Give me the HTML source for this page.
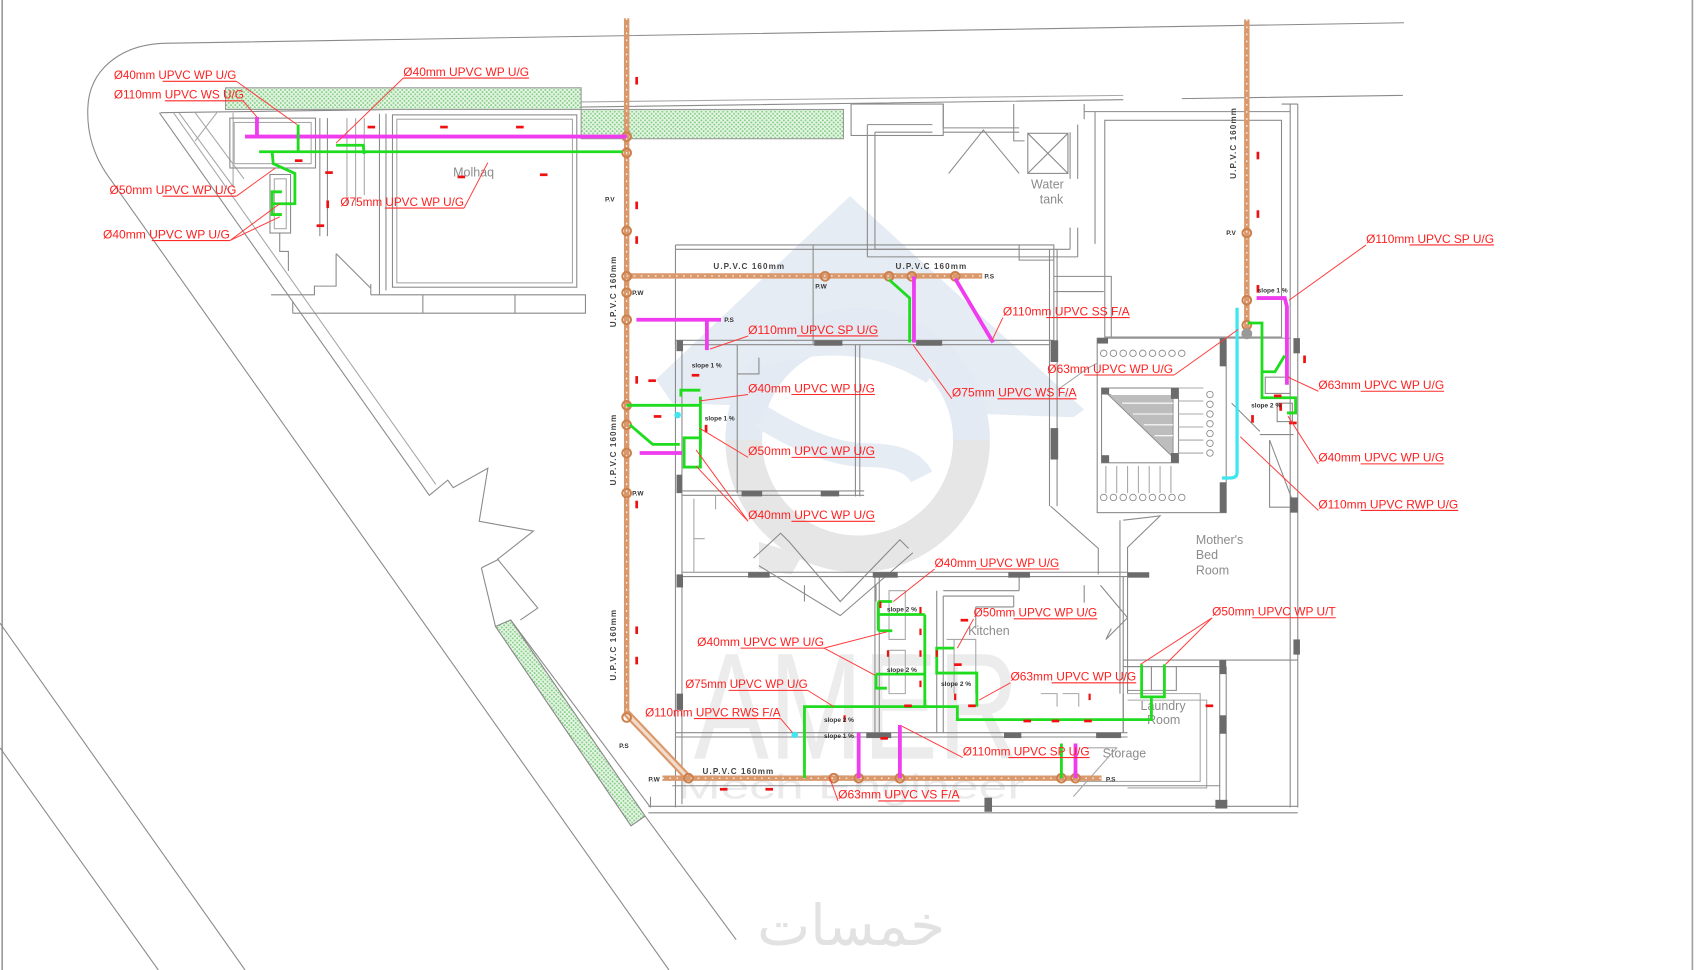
<!DOCTYPE html>
<html><head><meta charset="utf-8"><style>
html,body{margin:0;padding:0;background:#fff;}
svg{display:block;}
.w{stroke:#8a8a8a;stroke-width:1;fill:none}
.wl{stroke:#a8a8a8;stroke-width:1;fill:none}
.d{stroke:#666;stroke-width:1;fill:none}
.c{fill:#6b6b6b}
.ld{stroke:#ff3a3a;stroke-width:0.9;fill:none}
.ul{stroke:#ff2a2a;stroke-width:1;fill:none}
.lb{fill:#ff2020;font-family:"Liberation Sans",sans-serif;font-size:11px;}
.gt{fill:#8c8c8c;font-family:"Liberation Sans",sans-serif;font-size:11.5px;}
.sm{fill:#333;font-family:"Liberation Sans",sans-serif;font-size:6px;font-weight:bold}
.vt{fill:#444;font-family:"Liberation Sans",sans-serif;font-size:7.5px;font-weight:bold}
.or{stroke:#d9996c;stroke-width:5;fill:none}
.ord{stroke:#fff;stroke-width:1.1;stroke-dasharray:1.5 5;fill:none}
.mg{stroke:#ee3cee;stroke-width:3.5;fill:none}
.gr{stroke:#1fdc1f;stroke-width:2.6;fill:none}
.cy{stroke:#3ee6f0;stroke-width:3;fill:none}
.ra{fill:#ee1111}
</style></head><body>
<svg width="1700" height="970" viewBox="0 0 1568 895" preserveAspectRatio="none" xmlns="http://www.w3.org/2000/svg">
<defs>
<pattern id="h" width="4" height="4" patternUnits="userSpaceOnUse">
<rect width="4" height="4" fill="#e6f4e6"/><circle cx="1" cy="1" r="0.9" fill="#7fcf7f"/><circle cx="3" cy="3" r="0.9" fill="#7fcf7f"/>
</pattern>
</defs>
<rect width="1568" height="895" fill="#fff"/>

<!-- watermark logo -->
<polygon points="784,181 605,350 620,372 990,385 1000,378" fill="#e6ecf4"/>
<path d="M686,406 A105,105 0 0 1 896,406" fill="none" stroke="#e4eaf3" stroke-width="34"/>
<path d="M686,406 A105,105 0 0 0 896,406" fill="none" stroke="#e6e6e6" stroke-width="34"/>
<circle cx="791" cy="406" r="88" fill="#fff"/>
<path d="M703,385 Q760,420 800,420 Q840,420 850,440" fill="none" stroke="#e6ecf4" stroke-width="22"/>
<path d="M700,330 Q790,300 860,345" fill="none" stroke="#e6ecf4" stroke-width="20"/>
<path d="M700,500 L740,512 L730,530 L700,525 Z" fill="#e8e8e8"/>
<text x="640" y="700" textLength="300" lengthAdjust="spacingAndGlyphs" font-family="Liberation Sans,sans-serif" font-size="140" fill="#ececec">AMER</text>
<text x="625" y="737" textLength="320" lengthAdjust="spacingAndGlyphs" font-family="Liberation Sans,sans-serif" font-size="32" fill="#ebebeb">Mech Engineer</text>
<text x="785" y="872" text-anchor="middle" font-family="DejaVu Sans,sans-serif" font-size="52" fill="#e2e2e2">خمسات</text>

<!-- page edges -->
<line x1="2" y1="0" x2="2" y2="895" stroke="#9a9a9a" stroke-width="1.5"/>
<line x1="1561" y1="0" x2="1561" y2="895" stroke="#a0a0a0" stroke-width="1.5"/>

<!-- site boundary -->
<path d="M1295,21 L150,40 C110,42 82,65 81,100 C80,125 88,145 98,160 L617,895" class="w"/>
<line x1="0" y1="575" x2="226" y2="895" class="w"/>
<line x1="0" y1="690" x2="146" y2="895" class="w"/>
<path d="M148,104 L1036,92 M1090,91 L1294,88" class="w"/>
<path d="M210,98 L1036,88" class="wl"/>

<!-- building diagonal walls -->
<path d="M147,104 L396,457 L413,443 L418,450 L450,432 L442,481 L492,490 L459,516 L496,561 L480,572" class="w"/>
<path d="M160,104 L402,447" class="wl"/>
<path d="M444,524 L460,516 M444,524 L457,578" class="w"/>
<path d="M595,753 L679,867" class="w"/>
<path d="M471,572 L600,745" class="w"/>

<!-- hatch strips -->
<rect x="208" y="81" width="328" height="20" fill="url(#h)" stroke="#999" stroke-width="1"/>
<rect x="536" y="101" width="242" height="27" fill="url(#h)" stroke="#999" stroke-width="1"/>
<polygon points="457,578 471,572 595,753 582,762" fill="url(#h)" stroke="#888" stroke-width="1"/>

<!-- left building (Molhaq) -->
<path d="M165,104 L215,172 L215,104 M180,104 L225,165 M200,104 L180,130" class="wl"/>
<rect x="212" y="109" width="79" height="46" class="w"/>
<rect x="216" y="113" width="71" height="38" class="wl"/>
<rect x="249" y="161" width="19" height="54" class="w"/>
<rect x="253" y="165" width="11" height="46" class="wl"/>
<path d="M295,109 L295,218 M302,109 L302,218 M258,215 L258,232 L266,232 L266,250" class="w"/>
<path d="M320,109 L320,190 M328,109 L328,190 M336,109 L336,180" class="wl"/>
<rect x="362" y="106" width="170" height="159" class="w"/>
<rect x="366" y="110" width="162" height="151" class="wl"/>
<path d="M350,105 L350,272 M356,105 L356,268" class="w"/>
<path d="M342,272 L540,272 L540,289 L270,289 M342,272 L342,262 M390,272 L390,289 M475,272 L475,289" class="w"/>
<path d="M310,234 L310,264 L290,264 L290,272 L250,272 M310,234 L342,266 M270,289 L270,278" class="w"/>
<text class="gt" x="418" y="163" font-size="11">Molhaq</text>

<!-- top middle area / water tank -->
<rect x="785" y="96" width="85" height="29" class="w"/>
<path d="M870,96 L870,118 L940,118 M870,122 L940,122 M875,160 L907,120 L940,160" class="w"/>
<path d="M800,115 L800,237 M807,122 L807,230 M800,115 L860,115 M807,122 L860,122" class="w"/>
<path d="M994,115 L994,165 M994,210 L994,237 M987,122 L987,165 M987,210 L987,230 M935,96 L935,130 L945,130 M800,237 L994,237 M807,230 L987,230" class="w"/>
<rect x="948" y="123" width="37" height="37" class="w"/>
<path d="M948,123 L985,160 M985,123 L948,160" class="w"/>
<text class="gt" x="951" y="174">Water</text>
<text class="gt" x="959" y="188">tank</text>
<path d="M1000,96 L1000,103 L1190,103 M1000,96 L1000,110" class="w"/>
<rect x="1019" y="111" width="163" height="200" class="w"/>
<path d="M1010,103 L1010,225 M1190,96 L1190,745 M1197,96 L1197,745 M1182,96 L1197,96" class="w"/>

<!-- top rooms -->
<path d="M623,226 L972,226 L972,318 M623,230 L940,230 M623,226 L623,318 M750,226 L750,318 M940,226 L940,240 L972,240" class="w"/>
<path d="M972,255 L1025,255 L1025,311 M972,269 L1018,269" class="w"/>

<!-- middle building walls -->
<path d="M623,314 L972,314 M629,318 L968,318" class="w"/>
<path d="M623,314 L623,745 M629,318 L629,742" class="w"/>
<path d="M680,318 L680,455 M789,318 L789,458 M793,318 L793,458 M700,330 L700,345 L680,345" class="w"/>
<path d="M629,453 L797,453 M629,457 L797,457" class="w"/>
<path d="M629,528 L1040,528 M629,532 L1040,532" class="w"/>
<path d="M807,532 L807,680 M811,532 L811,680" class="w"/>
<path d="M623,676 L1040,676 M623,680 L1040,680" class="w"/>
<path d="M968,230 L968,467 M975,230 L975,467" class="w"/>
<path d="M640,460 L640,528 M660,457 L660,470 M640,497 L650,497" class="wl"/>
<!-- W zigzag -->
<path d="M695,515 L720,492 L728,500 L775,555 L830,498 L838,506 M700,522 L775,568 L842,510 M742,540 L742,555 M808,540 L808,555" class="w"/>
<!-- stairs -->
<rect x="1012" y="312" width="119" height="161" class="w"/>
<rect x="1016" y="358" width="71" height="69" class="w"/>
<path d="M1022,364 L1082,422 L1082,364 Z" fill="#bdbdbd" stroke="#888" stroke-width="0.8"/>
<path d="M1025,364 L1082,364 M1035,372 L1082,372 M1045,382 L1082,382 M1055,392 L1082,392 M1065,402 L1082,402" stroke="#fff" stroke-width="1"/>
<path d="M1087,358 L1110,358 M1087,370 L1110,370 M1087,382 L1110,382 M1087,394 L1110,394 M1087,406 L1110,406 M1087,418 L1110,418 M1020,430 L1020,455 M1030,430 L1030,455 M1040,430 L1040,455 M1050,430 L1050,455 M1060,430 L1060,455 M1070,430 L1070,455 M1080,430 L1080,455" class="wl"/>
<g fill="none" stroke="#888" stroke-width="0.8">
<circle cx="1018" cy="326" r="3"/><circle cx="1027" cy="326" r="3"/><circle cx="1036" cy="326" r="3"/><circle cx="1045" cy="326" r="3"/><circle cx="1054" cy="326" r="3"/><circle cx="1063" cy="326" r="3"/><circle cx="1072" cy="326" r="3"/><circle cx="1081" cy="326" r="3"/><circle cx="1090" cy="326" r="3"/>
<circle cx="1018" cy="459" r="3"/><circle cx="1027" cy="459" r="3"/><circle cx="1036" cy="459" r="3"/><circle cx="1045" cy="459" r="3"/><circle cx="1054" cy="459" r="3"/><circle cx="1063" cy="459" r="3"/><circle cx="1072" cy="459" r="3"/><circle cx="1081" cy="459" r="3"/><circle cx="1090" cy="459" r="3"/>
<circle cx="1116" cy="364" r="3"/><circle cx="1116" cy="373" r="3"/><circle cx="1116" cy="382" r="3"/><circle cx="1116" cy="391" r="3"/><circle cx="1116" cy="400" r="3"/><circle cx="1116" cy="409" r="3"/><circle cx="1116" cy="418" r="3"/>
</g>
<path d="M1012,335 L1003,340 L975,360" class="wl"/>
<!-- right wing details -->
<path d="M1131,312 L1190,312 M1136,372 L1162,398 M1171,406 L1193,464 M1162,401 L1193,401 M1171,406 L1171,468 L1193,468" class="w"/>
<rect x="1167" y="348" width="23" height="15" class="w"/>
<rect x="1178" y="372" width="14" height="17" class="w"/>
<!-- mother's bed room / lower right -->
<path d="M969,467 L1013,506 L1013,530 M1036,480 L1070,476 L1040,505 L1040,640 M1033,480 L1033,640 M1025,580 L1020,590 L1040,570" class="w"/>
<text class="gt" x="1103" y="502">Mother's</text>
<text class="gt" x="1103" y="516">Bed</text>
<text class="gt" x="1103" y="530">Room</text>
<path d="M1036,609 L1197,609 M1036,615 L1125,615 M1125,609 L1125,745 M1131,615 L1131,745" class="w"/>
<path d="M1040,615 L1085,615 L1085,637 L1040,637 M1062,615 L1062,637" class="w"/>
<path d="M1040,640 L1107,640 L1107,721 L996,721 M1040,646 L1113,646 L1113,727 L1040,727" class="wl"/>
<path d="M1036,640 L1036,676" class="w"/>
<text class="gt" x="1052" y="655">Laundry</text>
<text class="gt" x="1058" y="668">Room</text>
<text class="gt" x="1017" y="699">Storage</text>
<!-- kitchen -->
<path d="M864,545 L864,676 M870,550 L870,676 M870,545 L940,545 M870,550 L935,550 L935,560 M900,560 L935,560 M900,560 L900,580 M1000,540 L1000,556 M940,545 L940,530" class="w"/>
<path d="M1015,540 L1040,570 M1036,532 L1036,676" class="w"/>
<path d="M873,590 L900,590 L900,640 M880,590 L880,640" class="wl"/>
<text class="gt" x="893" y="586">Kitchen</text>
<path d="M820,545 L835,545 L835,590 L820,590 Z M820,600 L835,600 L835,640 L820,640 Z" class="wl"/>
<path d="M960,640 L975,640 L975,652 M980,640 L995,640 L995,652" class="wl"/>
<!-- bottom walls -->
<path d="M598,744 L1197,744 M598,750 L1197,750 M600,745 L600,735 M620,725 L1125,725" class="w"/>
<path d="M1000,690 L1030,690 L990,735" class="wl"/>

<!-- dark columns -->
<g class="c">
<rect x="624" y="314" width="6" height="10"/><rect x="751" y="314" width="26" height="5"/><rect x="845" y="314" width="24" height="5"/>
<rect x="969" y="314" width="7" height="20"/><rect x="969" y="395" width="7" height="29"/>
<rect x="1125" y="312" width="6" height="26"/><rect x="1125" y="445" width="6" height="28"/>
<rect x="1193" y="312" width="6" height="14"/><rect x="1190" y="459" width="7" height="14"/>
<rect x="624" y="438" width="5" height="17"/><rect x="684" y="453" width="19" height="5"/><rect x="757" y="453" width="17" height="5"/>
<rect x="624" y="530" width="6" height="12"/><rect x="690" y="528" width="20" height="5"/><rect x="805" y="528" width="23" height="5"/><rect x="930" y="528" width="20" height="5"/><rect x="1040" y="528" width="20" height="5"/>
<rect x="624" y="640" width="6" height="15"/><rect x="799" y="676" width="23" height="5"/><rect x="926" y="676" width="16" height="5"/><rect x="1011" y="676" width="23" height="5"/>
<rect x="908" y="736" width="7" height="13"/><rect x="1121" y="738" width="11" height="8"/>
<rect x="1125" y="609" width="6" height="13"/><rect x="1125" y="660" width="6" height="17"/><rect x="1193" y="590" width="6" height="14"/>
<rect x="1012" y="312" width="10" height="5"/><rect x="1016" y="358" width="7" height="6"/><rect x="1080" y="358" width="7" height="10"/><rect x="1016" y="420" width="7" height="7"/><rect x="1080" y="418" width="7" height="9"/>
</g>

<!-- orange pipes -->
<path d="M578,17 L578,660" class="or"/><path d="M578,17 L578,660" class="ord"/>
<path d="M578,658 L635,718" stroke="#d9996c" stroke-width="7" fill="none"/><path d="M578,658 L635,718" stroke="#f3dccb" stroke-width="3" fill="none"/>
<path d="M611,718 L1016,718" class="or"/><path d="M611,718 L1016,718" class="ord"/>
<path d="M578,254.6 L906,254.6" class="or"/><path d="M578,254.6 L906,254.6" class="ord"/>
<path d="M1150,18 L1150,307" class="or"/><path d="M1150,18 L1150,307" class="ord"/>
<g fill="none" stroke="#cc7f4a" stroke-width="1.8">
<circle cx="578" cy="126" r="4"/><circle cx="578" cy="141" r="4"/><circle cx="578" cy="213" r="4"/><circle cx="578" cy="255" r="4"/><circle cx="578" cy="270" r="4"/><circle cx="578" cy="295" r="4"/><circle cx="578" cy="374" r="4"/><circle cx="578" cy="392" r="4"/><circle cx="578" cy="418" r="4"/><circle cx="578" cy="455" r="4"/><circle cx="578" cy="662" r="4"/>
<circle cx="761" cy="255" r="4"/><circle cx="820" cy="255" r="4"/><circle cx="841" cy="255" r="4"/><circle cx="881" cy="255" r="4"/>
<circle cx="769" cy="718" r="4"/><circle cx="792" cy="718" r="4"/><circle cx="830" cy="718" r="4"/><circle cx="979" cy="718" r="4"/><circle cx="992" cy="718" r="4"/><circle cx="635" cy="718" r="4"/>
<circle cx="1150" cy="215" r="4"/><circle cx="1150" cy="277" r="4"/><circle cx="1150" cy="300" r="4"/>
</g>
<circle cx="1150" cy="308" r="5" fill="#999"/>

<!-- magenta pipes -->
<path d="M226,126 L578,126 M237,108 L237,126" class="mg"/>
<path d="M587,295 L665,295 M652,295 L652,323" class="mg"/>
<path d="M590,418 L629,418" class="mg"/>
<path d="M843,255 L843,316" class="mg"/>
<path d="M881,257 L916,316" class="mg" stroke-width="4.5"/>
<path d="M792,676 L792,718 M830,669 L830,718 M992,686 L992,718" class="mg"/>
<path d="M1159,275 L1185,275 L1187,283 L1187,355" class="mg"/>

<!-- green pipes -->
<path d="M239,140 L574,140 M275,115 L275,140" class="gr"/>
<path d="M251,140 L252,151 L272,160 L272,188 L251,188 M260,177 L251,177 L251,198 L260,198" class="gr"/>
<path d="M310,134 L335,134 L336,142" class="gr"/>
<path d="M820,258 L839,275 L839,316" class="gr"/>
<path d="M578,374 L646,374 M646,366 L646,412 M628,366 L628,360 L646,360" class="gr"/>
<path d="M581,392 L602,410 L627,410" class="gr"/>
<rect x="631" y="404" width="15" height="27" class="gr"/>
<path d="M742,718 L742,652 L883,652 L883,664 L1062,664 L1062,643 M1053,613 L1053,643 L1074,643 L1074,613" class="gr"/>
<path d="M853,567 L853,652 M810,567 L853,567 M810,555 L810,582 M810,555 L823,555 M810,582 L823,582" class="gr"/>
<path d="M808,622 L853,622 M808,622 L808,635 L818,635" class="gr"/>
<path d="M880,598 L864,598 L864,621 L901,621 L901,652" class="gr"/>
<path d="M979,686 L979,718" class="gr"/>
<path d="M1151,298 L1164,298 L1164,343 L1176,343 L1185,328 M1164,343 L1164,367 L1195,367 L1195,381 L1187,381" class="gr"/>

<!-- cyan -->
<path d="M1141,284 L1141,436 Q1141,441 1135,441 L1127,441" class="cy"/>
<circle cx="625" cy="383" r="3" fill="#3ee6f0"/>
<circle cx="733" cy="678" r="3" fill="#3ee6f0"/>

<!-- red flow arrows -->
<g class="ra">
<rect x="586" y="71" width="2.5" height="7"/><rect x="586" y="186" width="2.5" height="7"/><rect x="586" y="218" width="2.5" height="7"/><rect x="586" y="347" width="2.5" height="7"/><rect x="586" y="462" width="2.5" height="7"/><rect x="586" y="578" width="2.5" height="7"/><rect x="586" y="606" width="2.5" height="7"/>
<rect x="1159" y="140" width="2.5" height="7"/><rect x="1159" y="194" width="2.5" height="7"/><rect x="1159" y="263" width="2.5" height="7"/>
<rect x="301" y="185" width="2.5" height="7"/><rect x="650" y="392" width="2.5" height="7"/><rect x="1202" y="328" width="2.5" height="7"/><rect x="1180" y="372" width="2.5" height="7"/><rect x="1154" y="383" width="2.5" height="7"/>
<rect x="811" y="555" width="2" height="6"/><rect x="818" y="600" width="2" height="6"/><rect x="848" y="560" width="2" height="6"/><rect x="848" y="580" width="2" height="6"/><rect x="848" y="600" width="2" height="6"/><rect x="848" y="628" width="2" height="6"/><rect x="778" y="660" width="2" height="6"/><rect x="863" y="600" width="2" height="6"/><rect x="880" y="640" width="2" height="6"/><rect x="1004" y="640" width="2" height="6"/>
<rect x="339" y="116" width="7" height="2.5"/><rect x="406" y="116" width="7" height="2.5"/><rect x="476" y="116" width="7" height="2.5"/><rect x="272" y="147" width="7" height="2.5"/><rect x="300" y="158" width="7" height="2.5"/><rect x="422" y="162" width="7" height="2.5"/><rect x="498" y="160" width="7" height="2.5"/><rect x="292" y="207" width="7" height="2.5"/>
<rect x="598" y="350" width="7" height="2.5"/><rect x="603" y="383" width="7" height="2.5"/><rect x="638" y="345" width="7" height="2.5"/>
<rect x="812" y="680" width="7" height="2.5"/><rect x="834" y="650" width="7" height="2.5"/><rect x="893" y="650" width="7" height="2.5"/><rect x="944" y="664" width="7" height="2.5"/><rect x="970" y="664" width="7" height="2.5"/><rect x="1000" y="664" width="7" height="2.5"/><rect x="664" y="727" width="7" height="2.5"/><rect x="706" y="727" width="7" height="2.5"/>
<rect x="1112" y="650" width="7" height="2.5"/><rect x="1175" y="364" width="7" height="2.5"/><rect x="1189" y="389" width="7" height="2.5"/>
<rect x="880" y="612" width="7" height="2.5"/><rect x="886" y="571" width="7" height="2.5"/>
</g>

<!-- small black texts -->
<text class="vt" x="658" y="248" letter-spacing="1">U.P.V.C 160mm</text>
<text class="vt" x="826" y="248" letter-spacing="1">U.P.V.C 160mm</text>
<text class="vt" x="648" y="714" letter-spacing="1">U.P.V.C 160mm</text>
<text class="vt" transform="translate(568,302) rotate(-90)" letter-spacing="1">U.P.V.C 160mm</text>
<text class="vt" transform="translate(568,448) rotate(-90)" letter-spacing="1">U.P.V.C 160mm</text>
<text class="vt" transform="translate(568,628) rotate(-90)" letter-spacing="1">U.P.V.C 160mm</text>
<text class="vt" transform="translate(1140,165) rotate(-90)" letter-spacing="1">U.P.V.C 160mm</text>
<g class="sm">
<text x="558" y="186">P.V</text><text x="583" y="272">P.W</text><text x="752" y="266">P.W</text><text x="908" y="257">P.S</text><text x="668" y="297">P.S</text>
<text x="583" y="457">P.W</text><text x="598" y="721">P.W</text><text x="1020" y="721">P.S</text><text x="1131" y="217">P.V</text><text x="571" y="690">P.S</text>
<text x="638" y="339">slope 1 %</text><text x="650" y="388">slope 1 %</text><text x="818" y="564">slope 2 %</text><text x="818" y="620">slope 2 %</text><text x="760" y="666">slope 2 %</text><text x="760" y="681">slope 1 %</text><text x="868" y="633">slope 2 %</text><text x="1160" y="270">slope 1 %</text><text x="1154" y="376">slope 2 %</text>
</g>

<!-- red labels + leaders -->
<g class="lb">
<text x="105" y="73" textLength="113" lengthAdjust="spacingAndGlyphs">Ø40mm UPVC WP U/G</text>
<text x="105" y="91" textLength="120" lengthAdjust="spacingAndGlyphs">Ø110mm UPVC WS U/G</text>
<text x="372" y="70" textLength="116" lengthAdjust="spacingAndGlyphs">Ø40mm UPVC WP U/G</text>
<text x="101" y="179" textLength="117" lengthAdjust="spacingAndGlyphs">Ø50mm UPVC WP U/G</text>
<text x="95" y="220" textLength="117" lengthAdjust="spacingAndGlyphs">Ø40mm UPVC WP U/G</text>
<text x="314" y="190" textLength="114" lengthAdjust="spacingAndGlyphs">Ø75mm UPVC WP U/G</text>
<text x="690" y="308" textLength="120" lengthAdjust="spacingAndGlyphs">Ø110mm UPVC SP U/G</text>
<text x="925" y="291" textLength="117" lengthAdjust="spacingAndGlyphs">Ø110mm UPVC SS F/A</text>
<text x="966" y="344" textLength="116" lengthAdjust="spacingAndGlyphs">Ø63mm UPVC WP U/G</text>
<text x="878" y="366" textLength="115" lengthAdjust="spacingAndGlyphs">Ø75mm UPVC WS F/A</text>
<text x="690" y="362" textLength="117" lengthAdjust="spacingAndGlyphs">Ø40mm UPVC WP U/G</text>
<text x="690" y="420" textLength="117" lengthAdjust="spacingAndGlyphs">Ø50mm UPVC WP U/G</text>
<text x="690" y="479" textLength="117" lengthAdjust="spacingAndGlyphs">Ø40mm UPVC WP U/G</text>
<text x="1260" y="224" textLength="118" lengthAdjust="spacingAndGlyphs">Ø110mm UPVC SP U/G</text>
<text x="1216" y="359" textLength="116" lengthAdjust="spacingAndGlyphs">Ø63mm UPVC WP U/G</text>
<text x="1216" y="426" textLength="116" lengthAdjust="spacingAndGlyphs">Ø40mm UPVC WP U/G</text>
<text x="1216" y="469" textLength="129" lengthAdjust="spacingAndGlyphs">Ø110mm UPVC RWP U/G</text>
<text x="862" y="523" textLength="115" lengthAdjust="spacingAndGlyphs">Ø40mm UPVC WP U/G</text>
<text x="898" y="569" textLength="114" lengthAdjust="spacingAndGlyphs">Ø50mm UPVC WP U/G</text>
<text x="643" y="596" textLength="117" lengthAdjust="spacingAndGlyphs">Ø40mm UPVC WP U/G</text>
<text x="632" y="635" textLength="113" lengthAdjust="spacingAndGlyphs">Ø75mm UPVC WP U/G</text>
<text x="595" y="661" textLength="125" lengthAdjust="spacingAndGlyphs">Ø110mm UPVC RWS F/A</text>
<text x="932" y="628" textLength="116" lengthAdjust="spacingAndGlyphs">Ø63mm UPVC WP U/G</text>
<text x="1118" y="568" textLength="114" lengthAdjust="spacingAndGlyphs">Ø50mm UPVC WP U/T</text>
<text x="888" y="697" textLength="117" lengthAdjust="spacingAndGlyphs">Ø110mm UPVC SP U/G</text>
<text x="773" y="737" textLength="112" lengthAdjust="spacingAndGlyphs">Ø63mm UPVC VS F/A</text>
</g>
<g class="ul">
<path d="M150,75 L218,75 M152,93 L225,93 M372,72 L488,72 M150,181 L218,181 M140,222 L212,222 M355,192 L428,192 M735,310 L810,310 M965,293 L1042,293 M1000,346 L1083,346 M920,368 L993,368 M730,364 L807,364 M730,422 L807,422 M730,481 L807,481 M1300,226 L1378,226 M1255,361 L1332,361 M1255,428 L1332,428 M1255,471 L1345,471 M900,525 L977,525 M935,571 L1012,571 M683,598 L760,598 M672,637 L745,637 M640,663 L720,663 M970,630 L1048,630 M1155,570 L1232,570 M930,699 L1005,699 M810,739 L885,739"/>
</g>
<g class="ld">
<path d="M218,75 L274,115 M224,93 L237,108 M372,72 L310,132 M218,181 L254,155 M212,222 L258,188 M212,222 L258,200 M428,192 L450,150"/>
<path d="M690,310 L655,322 M925,293 L915,314 M1083,346 L1142,304 M878,368 L842,318 M690,364 L645,370 M690,422 L645,395 M690,481 L642,415 M690,481 L642,430"/>
<path d="M1260,226 L1189,277 M1216,361 L1188,348 M1216,428 L1188,384 M1216,471 L1144,403"/>
<path d="M862,525 L824,555 M898,571 L883,598 M760,598 L818,583 M760,598 L807,623 M745,637 L769,652 M720,663 L731,676 M932,630 L903,646 M1118,570 L1052,613 M1118,570 L1075,613 M888,699 L832,670 M773,739 L765,717"/>
</g>
</svg>
</body></html>
